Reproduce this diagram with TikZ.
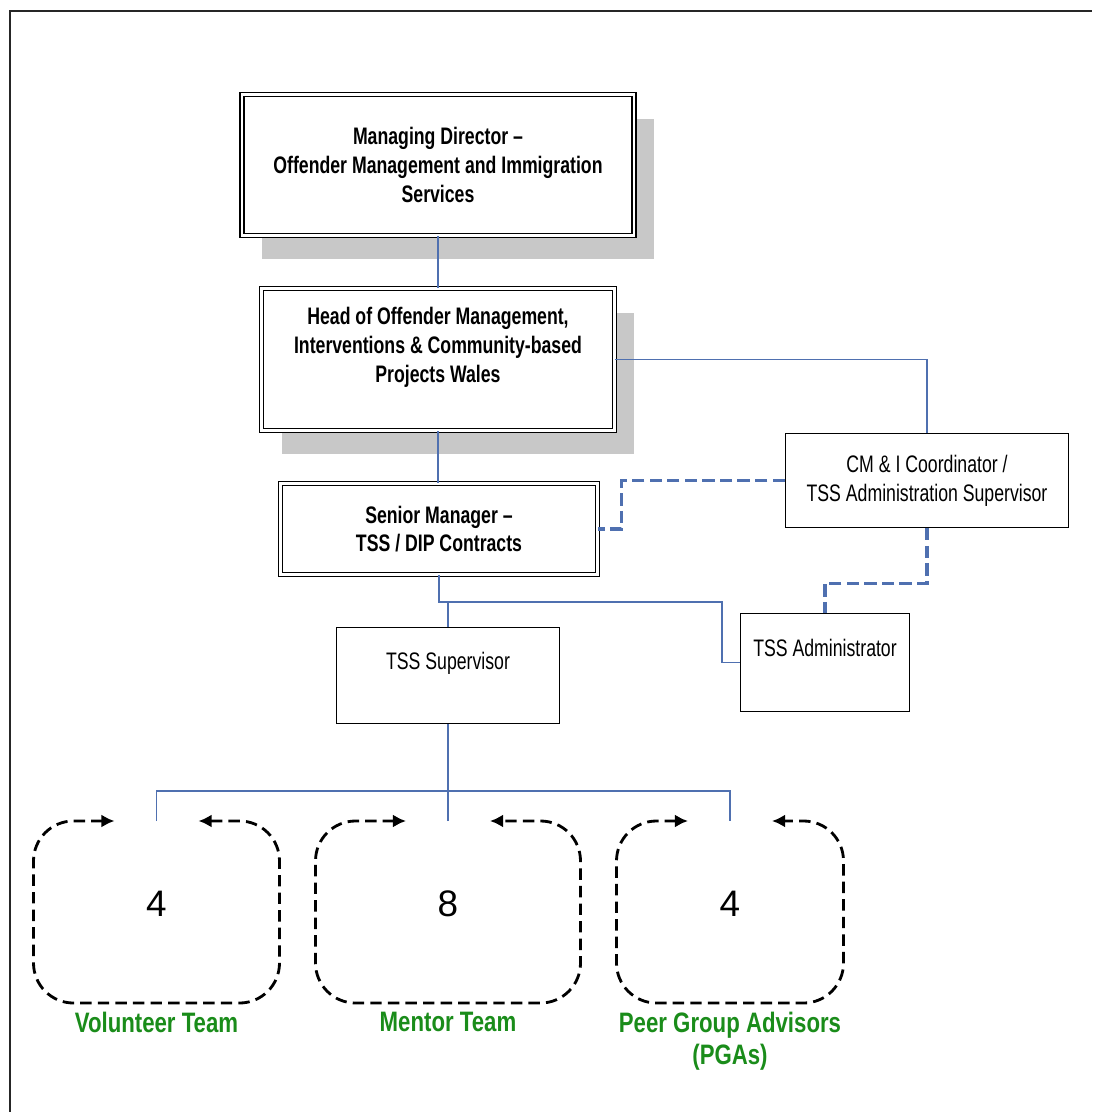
\documentclass[tikz,border=0pt]{standalone}
\usepackage{fontspec}
\setmainfont{Liberation Sans}
\newfontfamily\boxfont[FakeStretch=0.74]{Liberation Sans}
\newfontfamily\teamfont[FakeStretch=0.79]{Liberation Sans}
\usepackage{tikz}
\usetikzlibrary{arrows.meta,shadows,positioning}
\definecolor{linkblue}{RGB}{79,112,176}
\definecolor{teamgreen}{RGB}{26,140,26}
\definecolor{shadowgray}{RGB}{200,200,200}

\begin{document}
\begin{tikzpicture}[x=0.02cm,y=-0.02cm,>={Latex[length=7.5pt,width=7.5pt]},
                    semithick]
  \tikzstyle{head box}=[draw=black,double,line width=1pt,double distance=1.2pt,
                        fill=white,align=center,
                        font=\boxfont\bfseries\fontsize{13.6}{16.4}\selectfont]
  \tikzstyle{shadowed}=[drop shadow={shadow xshift=0.4cm,shadow yshift=-0.48cm,
                        fill=shadowgray,opacity=1}]
  \tikzstyle{plain box}=[draw=black,line width=0.8pt,fill=white,align=center,
                         font=\boxfont\fontsize{13.6}{16.4}\selectfont]
  \tikzstyle{team box}=[minimum height=3.62cm,text depth=9pt,
                        font=\fontsize{21}{25}\selectfont]
  \tikzstyle{team label}=[text=teamgreen,inner sep=0pt,align=center,
                          font=\teamfont\bfseries\fontsize{16}{18.2}\selectfont]
  \tikzstyle{team loop}=[<->,black,line width=1.6pt,dash pattern=on 6.5pt off 3.5pt,
                         rounded corners=0.8cm]
  \tikzstyle{link}=[linkblue,line width=0.6pt]
  \tikzstyle{dash link}=[linkblue,line width=1.8pt,dash pattern=on 7pt off 3pt]

  \useasboundingbox (0,0) rectangle (1092,1112);
  \draw[line width=1.1pt,black!85] (10,1112) -- (10,11) -- (1092,11);

  % management line
  \node[head box,shadowed,minimum width=7.84cm,minimum height=2.82cm] (md) at (438,165)
       {Managing Director \textendash\\Offender Management and Immigration\\Services};
  \node[head box,shadowed,minimum width=7.06cm,minimum height=2.84cm] (head) at (438,359.5)
       {Head of Offender Management,\\Interventions \& Community-based\\Projects Wales\\\mbox{}};
  \node[head box,minimum width=6.34cm,minimum height=1.82cm] (senior) at (439,529)
       {Senior Manager \textendash\\TSS / DIP Contracts};

  \node[plain box,minimum width=5.66cm,minimum height=1.88cm] (cmi) at (927,480.5)
       {CM \& I Coordinator /\\TSS Administration Supervisor};
  \node[plain box,minimum width=4.46cm,minimum height=1.92cm] (supv) at (448,675.5)
       {TSS Supervisor\\\mbox{}};
  \node[plain box,minimum width=3.38cm,minimum height=1.96cm] (admin) at (825,662.5)
       {TSS Administrator\\\mbox{}};

  % teams
  \node[team box,minimum width=4.9cm] (vol) at (156.5,912) {4};
  \node[team box,minimum width=5.28cm] (mentor) at (448,912) {8};
  \node[team box,minimum width=4.52cm] (pga) at (730,912) {4};
  \foreach \t in {vol,mentor,pga}
    \draw[team loop] ([xshift=-0.84cm]\t.north) -| (\t.south west)
                     -| (\t.north east) -- ([xshift=0.84cm]\t.north);

  \node[team label,below=0.18cm of vol] (vollab) {Volunteer Team};
  \node[team label,below=0.18cm of mentor] (mentorlab) {Mentor Team};
  \node[team label,below=0.18cm of pga] (pgalab) {Peer Group Advisors\\(PGAs)};

  % reporting lines
  \coordinate (elbow) at (722,602);
  \coordinate (teambar) at (448,791);
  \draw[link] (md.south) -- (md.south |- head.north);
  \draw[link] (head.south) -- (head.south |- senior.north);
  \draw[link] (head.east) -| (cmi.north);
  \draw[link] (senior.south) |- (elbow) |- (admin.west);
  \draw[link] (supv.north) -- (supv.north |- elbow);
  \draw[link] (supv.south) -- (teambar);
  \draw[link] (vol.north) |- (teambar) -| (pga.north);
  \draw[link] (mentor.north) -- (mentor.north |- teambar);

  \draw[dash link] (cmi.west) -- ++(-163,0) |- (senior.east);
  \draw[dash link] (cmi.south) -- ++(0,55) -| (admin.north);
\end{tikzpicture}
\end{document}
